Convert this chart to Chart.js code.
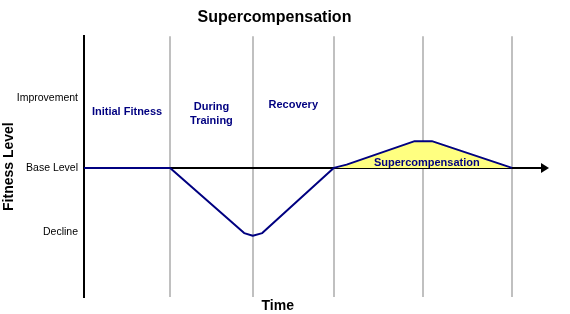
<!DOCTYPE html>
<html>
<head>
<meta charset="utf-8">
<script src="https://cdn.jsdelivr.net/npm/chart.js@4"></script>
<style>
  body { margin: 0; background: #fff; }
  canvas { display: block; }
</style>
</head>
<body>
<canvas id="chart" width="570" height="314"></canvas>
<script>
// time points along the curve and the fitness level at each
const timeX = [0, 1.0, 1.86, 1.96, 2.07, 2.9, 3.05, 3.84, 4.04, 4.97];
const fitness = [0, 0, -1.0, -1.04, -1.0, 0, 0.05, 0.41, 0.41, 0];

// phase boundaries (gray lines) and phase names
const phaseEdges = [1.0, 1.96, 2.9, 3.94, 4.97];
const phaseNames = [["Initial Fitness"], ["During", "Training"], ["Recovery"]];

// y axis ticks
const levelValues = [-0.98, 0, 1.07];
const levelLabels = ["Decline", "Base Level", "Improvement"];

const navy = "#000080";
const FONT = "'Liberation Sans', Arial, sans-serif";

const overlay = {
    id: "overlay",
    beforeDatasetsDraw(chart) {
        const { ctx, chartArea, scales } = chart;
        const y0 = scales.y.getPixelForValue(0);
        const tip = chartArea.right;
        ctx.save();
        ctx.strokeStyle = "#000";
        ctx.lineWidth = 2;
        ctx.beginPath();
        ctx.moveTo(chartArea.left, y0);
        ctx.lineTo(tip - 4, y0);
        ctx.stroke();
        ctx.fillStyle = "#000";
        ctx.beginPath();
        ctx.moveTo(tip, y0);
        ctx.lineTo(tip - 8, y0 - 5);
        ctx.lineTo(tip - 8, y0 + 5);
        ctx.closePath();
        ctx.fill();
        ctx.restore();
    },
    afterDatasetsDraw(chart) {
        const { ctx, scales } = chart;
        const x = scales.x, y = scales.y;
        const edges = [0].concat(phaseEdges);
        const labelY = [0.86, 0.94, 0.96];
        ctx.save();
        ctx.fillStyle = navy;
        ctx.font = "bold 11px " + FONT;
        ctx.textAlign = "center";
        ctx.textBaseline = "middle";
        phaseNames.forEach((lines, i) => {
            const cx = (x.getPixelForValue(edges[i]) + x.getPixelForValue(edges[i + 1])) / 2;
            const cy = y.getPixelForValue(labelY[i]);
            lines.forEach((t, j) => ctx.fillText(t, cx, cy + j * 14));
        });
        const sx = (x.getPixelForValue(phaseEdges[2]) + x.getPixelForValue(phaseEdges[4])) / 2;
        ctx.fillText("Supercompensation", sx + 4, y.getPixelForValue(0.08));

        // x axis title, sits left of centre in the original
        ctx.fillStyle = "#000";
        ctx.font = "bold 14px " + FONT;
        ctx.fillText("Time", x.getPixelForValue(2.25), 306);
        ctx.restore();
    }
};

new Chart(document.getElementById("chart"), {
    type: "line",
    data: {
        datasets: [
            {
                data: timeX.map((t, i) => ({ x: t, y: fitness[i] })),
                borderColor: navy,
                borderWidth: 2,
                borderJoinStyle: "round",
                pointRadius: 0,
                tension: 0,
                fill: { target: "origin", above: "#ffff80", below: "rgba(0,0,0,0)" },
            },
        ],
    },
    options: {
        responsive: false,
        animation: false,
        layout: { padding: { left: 0, right: 21, top: 0, bottom: 0 } },
        plugins: {
            legend: { display: false },
            tooltip: { enabled: false },
            title: {
                display: true,
                text: "Supercompensation",
                color: "#000",
                font: { family: FONT, size: 16, weight: "bold" },
                padding: { top: 8, bottom: 9 },
            },
        },
        scales: {
            x: {
                type: "linear",
                min: 0,
                max: 5.4,
                afterBuildTicks: (s) => { s.ticks = phaseEdges.map((v) => ({ value: v })); },
                afterFit: (s) => { s.height = 17; },
                grid: { color: "#c0c0c0", lineWidth: 2, drawTicks: false },
                border: { display: false },
                ticks: { display: false },
            },
            y: {
                min: -1.98,
                max: 2.02,
                afterBuildTicks: (s) => { s.ticks = levelValues.map((v) => ({ value: v })); },
                afterFit: (s) => { s.width = 84; },
                grid: { display: false, drawTicks: false },
                border: { display: true, color: "#000", width: 2 },
                ticks: {
                    padding: 6,
                    color: "#000",
                    font: { family: FONT, size: 10.5 },
                    callback: (v) => levelLabels[levelValues.indexOf(v)],
                },
                title: {
                    display: true,
                    text: "Fitness Level",
                    color: "#000",
                    font: { family: FONT, size: 14, weight: "bold" },
                    padding: { top: 1, bottom: 0 },
                },
            },
        },
    },
    plugins: [overlay],
});
</script>
</body>
</html>
